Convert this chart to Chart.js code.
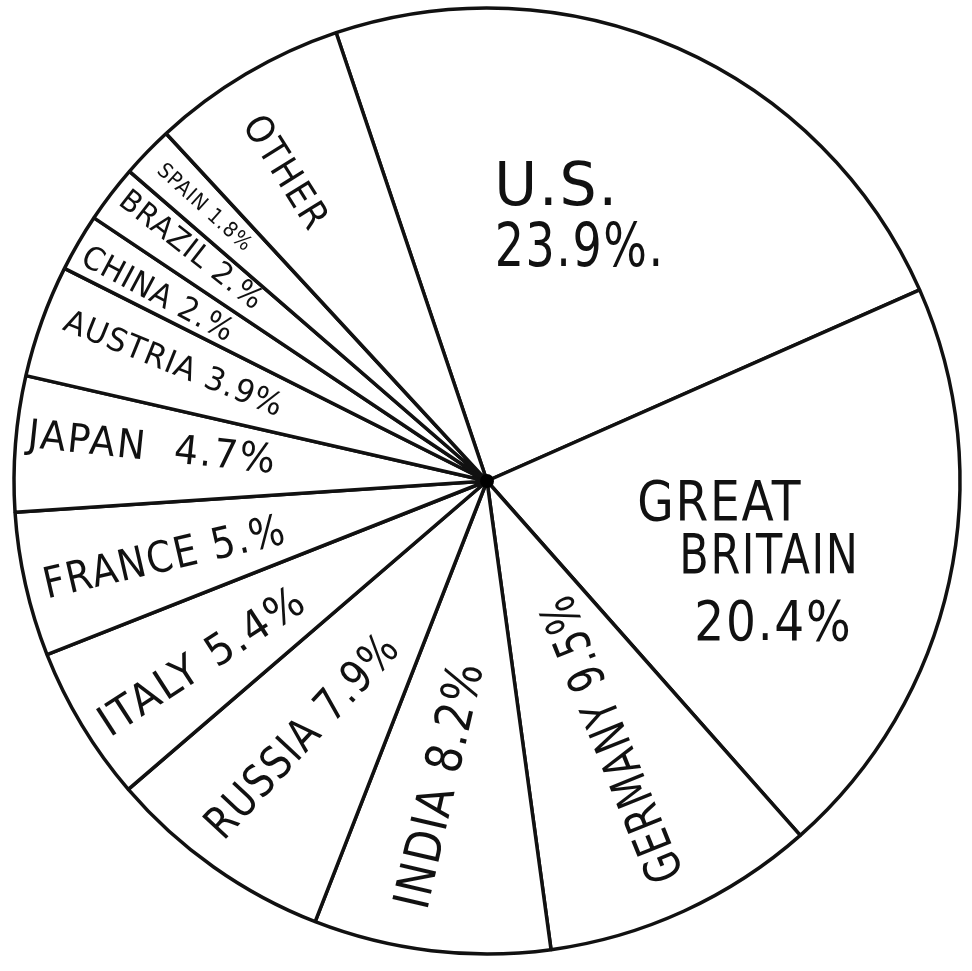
<!DOCTYPE html>
<html><head><meta charset="utf-8">
<script src="https://cdn.jsdelivr.net/npm/chart.js@4/dist/chart.umd.min.js"></script>
<style>html,body{margin:0;padding:0;background:#fff}#wrap{width:972px;height:971px;position:relative}</style>
</head><body><div id="wrap"><canvas id="c"></canvas></div>
<script>
// ---- data ----
const categories = ['U.S.', 'GREAT BRITAIN', 'GERMANY', 'INDIA', 'RUSSIA', 'ITALY', 'FRANCE', 'JAPAN', 'AUSTRIA', 'CHINA', 'BRAZIL', 'SPAIN', 'OTHER'];
const shares = [23.9, 20.4, 9.5, 8.2, 7.9, 5.4, 5.0, 4.7, 3.9, 2.0, 2.0, 1.8, 6.8]; // OTHER estimated from its slice
const labelLines = [
  ['U.S.', '23.9%.'],
  ['GREAT', 'BRITAIN', '20.4%'],
  ['GERMANY 9.5%'],
  ['INDIA 8.2%'],
  ['RUSSIA 7.9%'],
  ['ITALY 5.4%'],
  ['FRANCE 5.%'],
  ['JAPAN  4.7%'],
  ['AUSTRIA 3.9%'],
  ['CHINA 2.%'],
  ['BRAZIL 2.%'],
  ['SPAIN 1.8%'],
  ['OTHER']
];

// ---- label layout / style (relative to each slice) ----
const labelStyle = [
  {dAng: -4.7, rf: 0.599, rot: 0, size: 60, lines: [{dx: -23, dy: -30, w: 125}, {dx: 0, dy: 31, w: 170}]},
  {dAng: 4.4, rf: 0.577, rot: 0, size: 55, lines: [{dx: -28.5, dy: -60, w: 165}, {dx: 21, dy: -6.5, w: 180}, {dx: 25, dy: 60, w: 158}]},
  {dAng: -0.8, rf: 0.605, rot: -112, size: 50, lines: [{dx: 0, dy: 0, w: 305}]},
  {dAng: 2.5, rf: 0.65, rot: -77, size: 50, lines: [{dx: 0, dy: 0, w: 252}]},
  {dAng: 1.0, rf: 0.665, rot: -47, size: 45, lines: [{dx: 0, dy: 0, w: 262}]},
  {dAng: -0.9, rf: 0.713, rot: -33, size: 43, lines: [{dx: 0, dy: 0, w: 238}]},
  {dAng: -0.3, rf: 0.70, rot: -13, size: 43, lines: [{dx: 0, dy: 0, w: 248}]},
  {dAng: 1.5, rf: 0.711, rot: 6, size: 40, lines: [{dx: 0, dy: 0, w: 250}]},
  {dAng: 1.0, rf: 0.707, rot: 22, size: 32, lines: [{dx: 0, dy: 0, w: 234}]},
  {dAng: -0.4, rf: 0.80, rot: 28, size: 32, lines: [{dx: 0, dy: 0, w: 168}]},
  {dAng: 0.9, rf: 0.793, rot: 38, size: 30, lines: [{dx: 0, dy: 0, w: 174}]},
  {dAng: 0.2, rf: 0.831, rot: 42, size: 21, lines: [{dx: 0, dy: 0, w: 120}]},
  {dAng: -2.2, rf: 0.778, rot: 58, size: 38, lines: [{dx: 0, dy: 0, w: 128}]}
];

const FONT = '"DejaVu Sans", "Liberation Sans", sans-serif';

const labelPlugin = {
  id: 'sliceLabels',
  afterDatasetsDraw(chart) {
    const ctx = chart.ctx;
    const arcs = chart.getDatasetMeta(0).data;
    ctx.save();
    ctx.fillStyle = '#111';
    ctx.textAlign = 'center';
    ctx.textBaseline = 'alphabetic';
    arcs.forEach((arc, i) => {
      const st = labelStyle[i];
      const mid = (arc.startAngle + arc.endAngle) / 2 + st.dAng * Math.PI / 180;
      const r = arc.outerRadius * st.rf;
      const x = arc.x + r * Math.cos(mid);
      const y = arc.y + r * Math.sin(mid);
      ctx.font = st.size + 'px ' + FONT;
      if ('letterSpacing' in ctx) ctx.letterSpacing = Math.round(st.size * 0.04) + 'px';
      const cap = st.size * 0.729;
      labelLines[i].forEach((txt, j) => {
        const ln = st.lines[j];
        ctx.save();
        ctx.translate(x, y);
        ctx.rotate(st.rot * Math.PI / 180);
        ctx.translate(ln.dx, ln.dy);
        const m = ctx.measureText(txt).width;
        ctx.scale(ln.w / m, 1);
        ctx.fillText(txt, 0, cap / 2);
        ctx.restore();
      });
    });
    if ('letterSpacing' in ctx) ctx.letterSpacing = '0px';
    // centre dot
    const a0 = arcs[0];
    ctx.beginPath();
    ctx.arc(a0.x, a0.y, 7, 0, Math.PI * 2);
    ctx.fillStyle = '#000';
    ctx.fill();
    ctx.restore();
  }
};

new Chart(document.getElementById('c'), {
  type: 'pie',
  data: {
    labels: categories,
    datasets: [{
      data: shares,
      backgroundColor: '#ffffff',
      borderColor: '#111111',
      borderWidth: 3.5,
      hoverOffset: 0
    }]
  },
  options: {
    responsive: true,
    maintainAspectRatio: false,
    animation: false,
    rotation: -18.6,
    radius: 473,
    layout: {padding: {left: 2, right: 0, top: 0, bottom: 9}},
    events: [],
    plugins: {legend: {display: false}, tooltip: {enabled: false}, title: {display: false}}
  },
  plugins: [labelPlugin]
});
</script>
</body></html>
